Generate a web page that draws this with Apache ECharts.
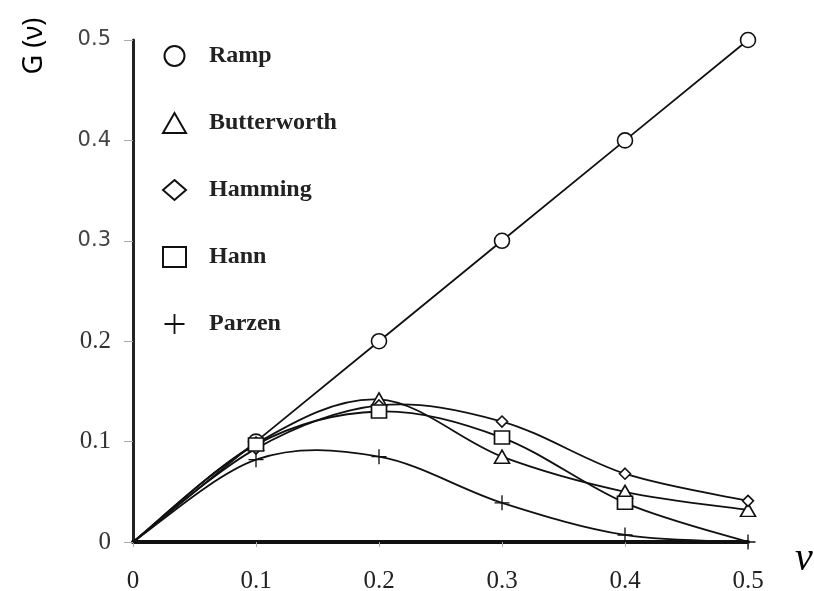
<!DOCTYPE html>
<html><head><meta charset="utf-8">
<script src="https://cdn.jsdelivr.net/npm/echarts@6/dist/echarts.min.js"></script>
<style>html,body{margin:0;padding:0;background:#fff}#c{width:814px;height:591px}</style>
</head><body><div id="c"></div>
<script>
const nu = [0, 0.1, 0.2, 0.3, 0.4, 0.5];
const ramp = [0, 0.1, 0.2, 0.3, 0.4, 0.5];
const butterworth = [0, 0.098, 0.142, 0.085, 0.050, 0.032];
const hamming = [0, 0.093, 0.136, 0.120, 0.068, 0.041];
const hann = [0, 0.097, 0.130, 0.104, 0.039, 0.0];
const parzen = [0, 0.082, 0.085, 0.039, 0.007, 0.0];
const xTicks = ['0', '0.1', '0.2', '0.3', '0.4', '0.5'];
const yTicks = ['0', '0.1', '0.2', '0.3', '0.4', '0.5'];
const names = ['Ramp', 'Butterworth', 'Hamming', 'Hann', 'Parzen'];
// which points carry a marker (first point at origin has none)
const markerShown = [
  [false, true, true, true, true, true],
  [false, true, true, true, true, true],
  [false, true, true, true, true, true],
  [false, true, true, true, true, false],
  [false, true, true, true, true, true]
];

const plusPath = 'path://M9.1,0h1.8v20h-1.8z M0,9.1h20v1.8h-20z';
const symbols = ['circle', 'triangle', 'diamond', 'rect', plusPath];
const sizes = [15, [15, 13], 11, [15, 13], 15];
const values = [ramp, butterworth, hamming, hann, parzen];
const LW = 1.8;

function pts(arr, k) {
  return arr.map((v, i) => markerShown[k][i] ? [nu[i], v] : { value: [nu[i], v], symbol: 'none' });
}

function curve(vals, k) {
  const n = nu.length;
  const cl = (j) => Math.max(0, Math.min(n - 1, j));
  return {
    type: 'custom',
    name: names[k] + ' curve',
    data: nu.map((x, i) => [x, vals[i]]),
    encode: { x: 0, y: 1 },
    silent: true,
    z: 1,
    animation: false,
    renderItem: function (params, api) {
      const i = params.dataIndex;
      if (i >= n - 1) return null;
      const P = (j) => api.coord([nu[cl(j)], vals[cl(j)]]);
      const p0 = P(i - 1), p1 = P(i), p2 = P(i + 1), p3 = P(i + 2);
      const c1 = [p1[0] + (p2[0] - p0[0]) / 6, p1[1] + (p2[1] - p0[1]) / 6];
      const c2 = [p2[0] - (p3[0] - p1[0]) / 6, p2[1] - (p3[1] - p1[1]) / 6];
      return {
        type: 'bezierCurve',
        shape: { x1: p1[0], y1: p1[1], x2: p2[0], y2: p2[1], cpx1: c1[0], cpy1: c1[1], cpx2: c2[0], cpy2: c2[1] },
        style: { stroke: '#111', lineWidth: LW, fill: null }
      };
    }
  };
}

const series = [];
names.forEach((nm, k) => {
  if (k > 0) series.push(curve(values[k], k));
});
names.forEach((nm, k) => {
  series.push({
    name: nm,
    type: 'line',
    data: pts(values[k], k),
    smooth: false,
    symbol: symbols[k],
    symbolSize: sizes[k],
    showAllSymbol: true,
    lineStyle: k === 0 ? { color: '#111', width: LW } : { color: '#111', width: 0, opacity: 0 },
    itemStyle: k === 4 ? { color: '#111' } : { color: '#fff', borderColor: '#111', borderWidth: 1.6 },
    z: 3 + k,
    animation: false
  });
});

const chart = echarts.init(document.getElementById('c'));
chart.setOption({
  animation: false,
  backgroundColor: '#fff',
  grid: { left: 133, right: 66, top: 40, bottom: 49, containLabel: false, outerBoundsMode: 'none' },
  xAxis: {
    type: 'value', min: 0, max: 0.5, interval: 0.1,
    axisLine: { lineStyle: { color: '#111', width: 4 } },
    axisTick: { show: true, length: 5, lineStyle: { color: '#aaa', width: 1 } },
    axisLabel: { margin: 27, fontFamily: 'Liberation Serif', fontSize: 25, color: '#222',
      formatter: (v) => xTicks[Math.round(v * 10)] },
    splitLine: { show: false }
  },
  yAxis: {
    type: 'value', min: 0, max: 0.5, interval: 0.1,
    axisLine: { show: true, lineStyle: { color: '#222', width: 3 } },
    axisTick: { show: true, length: 9, lineStyle: { color: '#aaa', width: 1 } },
    axisLabel: { margin: 22, fontFamily: 'DejaVu Sans', fontSize: 21, color: '#444',
      formatter: (v) => { const i = Math.round(v * 10); return i <= 2 ? '{s|' + yTicks[i] + '}' : yTicks[i]; },
      rich: { s: { fontFamily: 'Liberation Serif', fontSize: 25, color: '#333' } } },
    splitLine: { show: false }
  },
  legend: {
    orient: 'vertical', left: 157, top: 39,
    itemWidth: 23, itemHeight: 20, itemGap: 43,
    textStyle: { fontFamily: 'Liberation Serif', fontWeight: 'bold', fontSize: 24, color: '#222', lineHeight: 24, padding: [0, 0, 0, 18] },
    data: names.map((n, k) => ({ name: n, icon: symbols[k] })),
    selectedMode: false
  },
  graphic: [
    { type: 'text', x: 34, y: 46, rotation: Math.PI / 2,
      style: { text: 'G (ν)', font: '27px "Noto Sans"', fill: '#000', align: 'center', verticalAlign: 'middle' } },
    { type: 'text', x: 804, y: 559,
      style: { text: 'ν', font: 'italic 40px "Liberation Serif"', fill: '#000', align: 'center', verticalAlign: 'middle' } }
  ],
  series: series
});
</script></body></html>
